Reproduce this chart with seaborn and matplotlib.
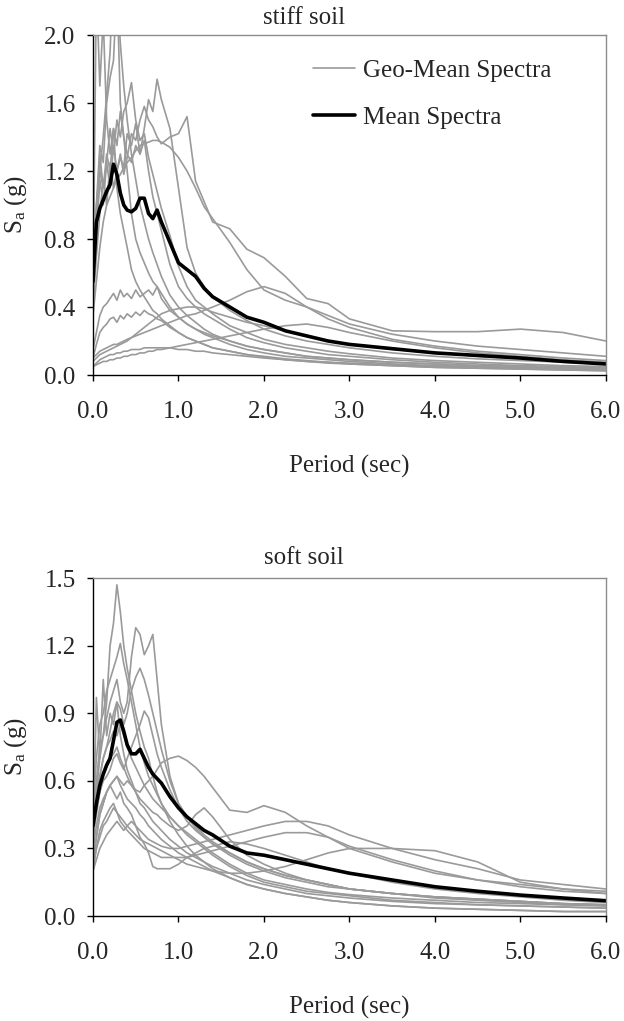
import numpy as np
import pandas as pd
import matplotlib
matplotlib.use("Agg")
import matplotlib.pyplot as plt
import seaborn as sns

# Period grid (sec) shared by every spectrum
periods = [0.0, 0.04, 0.08, 0.12, 0.16, 0.2, 0.24, 0.28, 0.32, 0.36, 0.4, 0.45,
           0.5, 0.55, 0.6, 0.65, 0.7, 0.75, 0.8, 0.9, 1.0, 1.1, 1.2, 1.3, 1.4,
           1.6, 1.8, 2.0, 2.25, 2.5, 2.75, 3.0, 3.5, 4.0, 4.5, 5.0, 5.5, 6.0]

# ---- stiff soil: geometric-mean spectra of each record (g) ----
stiff_01 = [0.45, 2.30, 1.70, 2.10, 1.50, 1.30, 1.45, 1.10, 0.95, 0.85, 0.75, 0.62, 0.55, 0.50, 0.46, 0.42, 0.38, 0.36, 0.33, 0.29, 0.25, 0.22, 0.20, 0.18, 0.16, 0.14, 0.12, 0.11, 0.095, 0.085, 0.075, 0.065, 0.055, 0.045, 0.04, 0.035, 0.03, 0.025]
stiff_02 = [0.50, 0.85, 1.20, 1.40, 1.65, 1.90, 2.40, 2.30, 1.60, 1.40, 1.20, 0.95, 0.80, 0.72, 0.66, 0.60, 0.55, 0.52, 0.48, 0.40, 0.34, 0.30, 0.27, 0.24, 0.22, 0.18, 0.15, 0.13, 0.11, 0.10, 0.09, 0.08, 0.065, 0.055, 0.05, 0.045, 0.04, 0.035]
stiff_03 = [0.60, 1.00, 1.35, 1.25, 1.60, 1.75, 1.85, 2.30, 1.95, 1.70, 1.50, 1.30, 1.15, 1.00, 0.90, 0.80, 0.72, 0.65, 0.58, 0.47, 0.40, 0.35, 0.31, 0.27, 0.24, 0.20, 0.17, 0.15, 0.13, 0.11, 0.10, 0.09, 0.075, 0.065, 0.055, 0.05, 0.045, 0.04]
stiff_04 = [0.45, 0.95, 1.30, 1.10, 1.25, 1.45, 1.30, 1.50, 1.40, 1.55, 1.60, 1.72, 1.50, 1.38, 1.42, 1.28, 1.18, 1.08, 0.98, 0.82, 0.64, 0.52, 0.44, 0.40, 0.36, 0.29, 0.25, 0.21, 0.18, 0.16, 0.14, 0.125, 0.10, 0.085, 0.075, 0.065, 0.055, 0.05]
stiff_05 = [0.50, 0.80, 1.15, 1.00, 1.25, 1.10, 1.35, 1.20, 1.28, 1.22, 1.42, 1.35, 1.48, 1.30, 1.45, 1.62, 1.55, 1.74, 1.62, 1.45, 1.10, 0.75, 0.60, 0.52, 0.46, 0.38, 0.32, 0.27, 0.23, 0.20, 0.18, 0.16, 0.13, 0.11, 0.095, 0.085, 0.075, 0.065]
stiff_06 = [0.40, 0.70, 0.95, 1.15, 1.00, 1.25, 1.10, 1.20, 1.30, 1.18, 1.28, 1.42, 1.38, 1.50, 1.58, 1.50, 1.46, 1.40, 1.36, 1.40, 1.42, 1.52, 1.14, 1.02, 0.90, 0.86, 0.74, 0.69, 0.58, 0.45, 0.42, 0.33, 0.26, 0.255, 0.255, 0.27, 0.25, 0.20]
stiff_07 = [0.35, 0.55, 0.75, 0.90, 1.00, 1.05, 1.10, 1.15, 1.18, 1.22, 1.25, 1.28, 1.32, 1.35, 1.36, 1.37, 1.38, 1.38, 1.37, 1.34, 1.28, 1.20, 1.10, 0.99, 0.92, 0.78, 0.62, 0.50, 0.44, 0.40, 0.35, 0.30, 0.24, 0.20, 0.17, 0.15, 0.13, 0.11]
stiff_08 = [0.55, 1.00, 1.20, 1.10, 1.30, 1.20, 1.45, 1.35, 1.55, 1.40, 1.30, 1.25, 1.35, 1.30, 1.38, 1.20, 1.05, 0.95, 0.85, 0.65, 0.52, 0.45, 0.40, 0.36, 0.33, 0.27, 0.22, 0.19, 0.16, 0.14, 0.12, 0.11, 0.09, 0.075, 0.065, 0.055, 0.05, 0.04]
stiff_09 = [0.15, 0.25, 0.35, 0.40, 0.42, 0.45, 0.48, 0.44, 0.50, 0.46, 0.48, 0.45, 0.50, 0.46, 0.48, 0.50, 0.47, 0.52, 0.45, 0.38, 0.34, 0.30, 0.27, 0.25, 0.23, 0.20, 0.17, 0.15, 0.13, 0.11, 0.10, 0.09, 0.075, 0.065, 0.055, 0.05, 0.045, 0.04]
stiff_10 = [0.10, 0.18, 0.25, 0.28, 0.30, 0.33, 0.34, 0.31, 0.35, 0.33, 0.36, 0.34, 0.37, 0.35, 0.38, 0.36, 0.35, 0.33, 0.32, 0.28, 0.25, 0.22, 0.20, 0.18, 0.16, 0.14, 0.12, 0.105, 0.09, 0.08, 0.07, 0.065, 0.055, 0.045, 0.04, 0.035, 0.03, 0.025]
stiff_11 = [0.08, 0.10, 0.12, 0.13, 0.14, 0.15, 0.16, 0.17, 0.18, 0.19, 0.20, 0.22, 0.24, 0.26, 0.28, 0.30, 0.32, 0.34, 0.36, 0.38, 0.39, 0.40, 0.40, 0.39, 0.37, 0.34, 0.31, 0.29, 0.26, 0.23, 0.20, 0.18, 0.15, 0.13, 0.11, 0.095, 0.085, 0.075]
stiff_12 = [0.10, 0.12, 0.14, 0.15, 0.16, 0.17, 0.18, 0.18, 0.19, 0.20, 0.21, 0.22, 0.23, 0.24, 0.25, 0.26, 0.27, 0.28, 0.29, 0.31, 0.33, 0.35, 0.36, 0.38, 0.40, 0.44, 0.49, 0.52, 0.48, 0.40, 0.33, 0.28, 0.21, 0.17, 0.14, 0.12, 0.10, 0.085]
stiff_13 = [0.05, 0.06, 0.07, 0.08, 0.08, 0.09, 0.09, 0.10, 0.10, 0.11, 0.11, 0.12, 0.12, 0.13, 0.13, 0.14, 0.14, 0.15, 0.15, 0.16, 0.17, 0.18, 0.19, 0.20, 0.21, 0.23, 0.25, 0.27, 0.29, 0.30, 0.28, 0.25, 0.20, 0.16, 0.13, 0.11, 0.09, 0.075]
stiff_14 = [0.05, 0.07, 0.09, 0.10, 0.11, 0.12, 0.12, 0.13, 0.13, 0.14, 0.14, 0.15, 0.15, 0.15, 0.16, 0.16, 0.16, 0.16, 0.16, 0.16, 0.15, 0.15, 0.14, 0.14, 0.13, 0.12, 0.11, 0.10, 0.09, 0.08, 0.075, 0.07, 0.06, 0.05, 0.045, 0.04, 0.035, 0.03]
stiff_mean = [0.55, 0.90, 0.98, 1.03, 1.08, 1.12, 1.24, 1.18, 1.07, 1.00, 0.97, 0.96, 0.98, 1.04, 1.04, 0.95, 0.92, 0.97, 0.90, 0.78, 0.66, 0.62, 0.58, 0.51, 0.46, 0.40, 0.34, 0.31, 0.26, 0.23, 0.20, 0.18, 0.155, 0.13, 0.115, 0.10, 0.08, 0.065]

# ---- soft soil: geometric-mean spectra of each record (g) ----
soft_01 = [0.35, 0.55, 0.70, 0.80, 0.95, 1.20, 1.30, 1.47, 1.35, 1.20, 1.10, 1.00, 0.90, 0.82, 0.75, 0.70, 0.62, 0.55, 0.50, 0.42, 0.36, 0.31, 0.27, 0.24, 0.21, 0.17, 0.14, 0.12, 0.10, 0.085, 0.07, 0.06, 0.045, 0.035, 0.03, 0.025, 0.02, 0.02]
soft_02 = [0.45, 0.60, 0.75, 0.80, 0.88, 0.95, 1.00, 1.05, 0.95, 0.90, 0.95, 1.15, 1.28, 1.25, 1.16, 1.20, 1.25, 1.05, 0.85, 0.62, 0.50, 0.44, 0.40, 0.36, 0.33, 0.28, 0.24, 0.21, 0.18, 0.16, 0.14, 0.12, 0.10, 0.085, 0.075, 0.065, 0.055, 0.05]
soft_03 = [0.40, 0.55, 0.62, 0.70, 0.75, 0.82, 0.90, 0.95, 0.92, 0.85, 0.90, 1.00, 1.06, 1.10, 1.05, 0.98, 0.90, 0.82, 0.74, 0.60, 0.50, 0.44, 0.39, 0.35, 0.32, 0.27, 0.23, 0.20, 0.17, 0.15, 0.13, 0.12, 0.10, 0.085, 0.075, 0.065, 0.055, 0.05]
soft_04 = [0.45, 0.70, 0.85, 0.90, 1.00, 1.05, 1.10, 1.15, 1.21, 1.12, 1.05, 0.95, 0.85, 0.75, 0.68, 0.62, 0.58, 0.54, 0.50, 0.44, 0.40, 0.36, 0.33, 0.30, 0.27, 0.22, 0.18, 0.15, 0.13, 0.11, 0.10, 0.09, 0.07, 0.06, 0.05, 0.045, 0.04, 0.035]
soft_05 = [0.30, 0.97, 0.70, 1.05, 0.80, 0.90, 0.85, 0.95, 0.80, 0.72, 0.65, 0.60, 0.55, 0.50, 0.48, 0.45, 0.42, 0.40, 0.38, 0.34, 0.31, 0.28, 0.26, 0.24, 0.22, 0.19, 0.16, 0.14, 0.12, 0.10, 0.09, 0.08, 0.065, 0.055, 0.05, 0.045, 0.04, 0.035]
soft_06 = [0.35, 0.45, 0.55, 0.60, 0.62, 0.65, 0.70, 0.72, 0.68, 0.65, 0.70, 0.75, 0.80, 0.85, 0.91, 0.88, 0.80, 0.72, 0.66, 0.56, 0.48, 0.42, 0.38, 0.35, 0.32, 0.28, 0.24, 0.21, 0.18, 0.16, 0.14, 0.12, 0.10, 0.085, 0.075, 0.065, 0.055, 0.05]
soft_07 = [0.25, 0.35, 0.45, 0.50, 0.55, 0.58, 0.60, 0.62, 0.60, 0.58, 0.60, 0.58, 0.56, 0.55, 0.58, 0.60, 0.62, 0.65, 0.68, 0.70, 0.71, 0.69, 0.66, 0.62, 0.57, 0.47, 0.46, 0.49, 0.46, 0.40, 0.35, 0.30, 0.24, 0.19, 0.16, 0.14, 0.12, 0.10]
soft_08 = [0.20, 0.25, 0.30, 0.33, 0.36, 0.38, 0.40, 0.42, 0.40, 0.38, 0.40, 0.42, 0.40, 0.38, 0.36, 0.34, 0.33, 0.32, 0.31, 0.30, 0.30, 0.31, 0.32, 0.33, 0.34, 0.36, 0.38, 0.40, 0.42, 0.42, 0.40, 0.36, 0.30, 0.25, 0.21, 0.16, 0.14, 0.12]
soft_09 = [0.20, 0.30, 0.38, 0.42, 0.45, 0.48, 0.50, 0.46, 0.42, 0.40, 0.38, 0.36, 0.34, 0.32, 0.30, 0.29, 0.28, 0.27, 0.26, 0.26, 0.26, 0.26, 0.27, 0.28, 0.29, 0.31, 0.33, 0.35, 0.37, 0.37, 0.35, 0.31, 0.25, 0.20, 0.16, 0.13, 0.11, 0.10]
soft_10 = [0.22, 0.30, 0.35, 0.40, 0.42, 0.45, 0.48, 0.46, 0.44, 0.42, 0.40, 0.38, 0.36, 0.34, 0.33, 0.32, 0.31, 0.30, 0.29, 0.27, 0.25, 0.23, 0.22, 0.21, 0.20, 0.19, 0.19, 0.20, 0.22, 0.25, 0.28, 0.30, 0.30, 0.29, 0.24, 0.15, 0.12, 0.11]
soft_11 = [0.20, 0.35, 0.45, 0.50, 0.55, 0.58, 0.55, 0.52, 0.55, 0.50, 0.48, 0.45, 0.40, 0.35, 0.32, 0.28, 0.22, 0.21, 0.21, 0.21, 0.23, 0.26, 0.28, 0.30, 0.31, 0.33, 0.32, 0.30, 0.27, 0.24, 0.21, 0.19, 0.15, 0.12, 0.10, 0.085, 0.07, 0.06]
soft_12 = [0.30, 0.40, 0.48, 0.52, 0.55, 0.58, 0.60, 0.62, 0.58, 0.55, 0.52, 0.50, 0.48, 0.45, 0.43, 0.40, 0.38, 0.36, 0.34, 0.31, 0.28, 0.26, 0.24, 0.22, 0.20, 0.17, 0.14, 0.12, 0.10, 0.085, 0.07, 0.06, 0.045, 0.035, 0.03, 0.025, 0.02, 0.02]
soft_13 = [0.35, 0.48, 0.55, 0.62, 0.66, 0.70, 0.72, 0.75, 0.70, 0.66, 0.62, 0.58, 0.55, 0.52, 0.50, 0.48, 0.46, 0.45, 0.43, 0.40, 0.38, 0.40, 0.45, 0.48, 0.44, 0.34, 0.27, 0.23, 0.19, 0.16, 0.14, 0.12, 0.10, 0.08, 0.07, 0.06, 0.05, 0.045]
soft_14 = [0.40, 0.55, 0.62, 0.70, 0.75, 0.78, 0.82, 0.80, 0.85, 0.80, 0.75, 0.70, 0.66, 0.62, 0.58, 0.55, 0.52, 0.50, 0.48, 0.44, 0.40, 0.37, 0.34, 0.31, 0.28, 0.23, 0.19, 0.16, 0.14, 0.12, 0.105, 0.095, 0.08, 0.07, 0.06, 0.055, 0.05, 0.045]
soft_mean = [0.40, 0.50, 0.58, 0.63, 0.67, 0.70, 0.78, 0.86, 0.87, 0.82, 0.76, 0.72, 0.72, 0.74, 0.70, 0.66, 0.63, 0.61, 0.59, 0.53, 0.48, 0.44, 0.41, 0.38, 0.36, 0.31, 0.28, 0.27, 0.25, 0.23, 0.21, 0.19, 0.16, 0.13, 0.11, 0.093, 0.08, 0.068]

stiff_records = [stiff_01, stiff_02, stiff_03, stiff_04, stiff_05, stiff_06, stiff_07,
                 stiff_08, stiff_09, stiff_10, stiff_11, stiff_12, stiff_13, stiff_14]
soft_records = [soft_01, soft_02, soft_03, soft_04, soft_05, soft_06, soft_07,
                soft_08, soft_09, soft_10, soft_11, soft_12, soft_13, soft_14]

x_ticks = [0, 1, 2, 3, 4, 5, 6]
stiff_yticks = [0.0, 0.4, 0.8, 1.2, 1.6, 2.0]
soft_yticks = [0.0, 0.3, 0.6, 0.9, 1.2, 1.5]

sns.set_theme(style="white")
plt.rcParams["font.family"] = ["Liberation Serif", "DejaVu Serif"]
plt.rcParams["mathtext.fontset"] = "custom"
plt.rcParams["mathtext.rm"] = "Liberation Serif"
plt.rcParams["mathtext.it"] = "Liberation Serif:italic"

GRAY = "#9a9a9a"
FS = 18

fig = plt.figure(figsize=(6.24, 10.21), dpi=100)
ax_top = fig.add_axes([0.149, 0.6327, 0.8221, 0.3330])
ax_bot = fig.add_axes([0.149, 0.1028, 0.8221, 0.3310])


def long_form(records):
    rows = []
    for i, rec in enumerate(records):
        for t, v in zip(periods, rec):
            rows.append({"record": i, "period": t, "sa": v})
    return pd.DataFrame(rows)


def draw(ax, records, mean, yticks, ymax, title_y, title):
    sns.lineplot(data=long_form(records), x="period", y="sa", units="record",
                 estimator=None, color=GRAY, lw=1.2, ax=ax, legend=False)
    sns.lineplot(x=periods, y=mean, color="black", lw=2.6, ax=ax, legend=False)
    ax.set_xlim(0, 6)
    ax.set_ylim(0, ymax)
    ax.set_xticks(x_ticks)
    ax.set_xticklabels([f"{t:.1f}" for t in x_ticks])
    ax.set_yticks(yticks)
    ax.set_yticklabels([f"{t:.1f}" for t in yticks])
    ax.tick_params(axis="both", direction="out", length=4.5, width=1.0,
                   color="black", labelsize=FS, bottom=True, left=True)
    ax.tick_params(axis="x", pad=14)
    ax.tick_params(axis="y", pad=8)
    for side in ("left", "bottom"):
        ax.spines[side].set_color("black")
        ax.spines[side].set_linewidth(1.0)
    for side in ("top", "right"):
        ax.spines[side].set_color("#8c8c8c")
        ax.spines[side].set_linewidth(1.0)
    ax.set_xlabel("Period (sec)", fontsize=FS, labelpad=23)
    ax.set_ylabel(r"S$_\mathrm{a}$ (g)", fontsize=FS)
    ax.yaxis.set_label_coords(-0.125, 0.5)
    fig.text(0.487, title_y, title, ha="center", va="center", fontsize=FS)


draw(ax_top, stiff_records, stiff_mean, stiff_yticks, 2.0, 0.982, "stiff soil")
draw(ax_bot, soft_records, soft_mean, soft_yticks, 1.5, 0.4535, "soft soil")

ax_top.legend([ax_top.lines[0], ax_top.lines[-1]], ["Geo-Mean Spectra", "Mean Spectra"],
              loc="upper left", bbox_to_anchor=(0.385, 0.995), frameon=False,
              fontsize=FS, handlelength=1.7, handletextpad=0.3, labelspacing=1.0)

fig.savefig("out.png", dpi=100)
